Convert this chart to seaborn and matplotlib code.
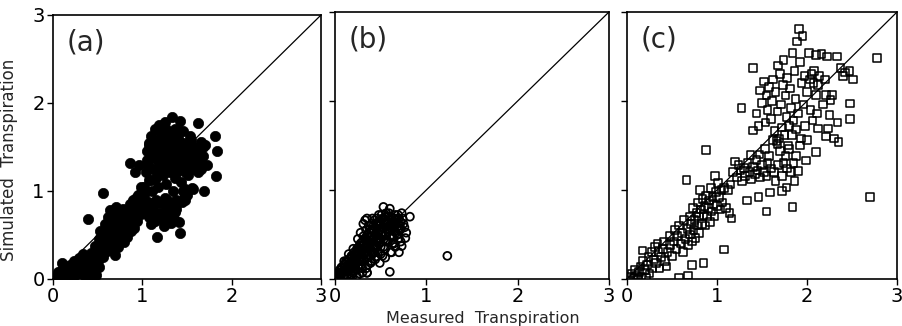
import numpy as np
import matplotlib
matplotlib.use("Agg")
import matplotlib.pyplot as plt
import seaborn as sns

# (a) filled circles
a_measured = [0.02, 0.05, 0.06, 0.08, 0.10, 0.10, 0.12, 0.14, 0.15, 0.17, 0.19, 0.20, 0.22, 0.24, 0.25,
              0.27, 0.29, 0.30, 0.32, 0.34, 0.36, 0.37, 0.40, 0.41, 0.42, 0.43, 0.45, 0.46, 0.47, 0.48, 0.39,
              0.50, 0.51, 0.52, 0.53, 0.55, 0.56, 0.56, 0.57, 0.58, 0.59, 0.60, 0.61, 0.62, 0.63, 0.64, 0.65,
              0.66, 0.67, 0.68, 0.69, 0.70, 0.71, 0.72, 0.73, 0.74, 0.75, 0.76, 0.78, 0.79, 0.80, 0.82, 0.83,
              0.85, 0.86, 0.87, 0.88, 0.90, 0.91, 0.92, 0.94,
              0.96, 0.98, 1.00, 1.02, 1.04, 1.06, 1.08, 1.10, 1.12, 1.14, 1.16, 1.18, 1.20, 1.22, 1.24, 1.26,
              1.28, 1.30, 1.32, 1.34, 1.36, 1.38, 1.41, 1.42, 1.44, 1.47, 1.48, 1.56,
              1.02, 1.04, 1.05, 1.06, 1.07, 1.08, 1.09, 1.10, 1.11, 1.12, 1.13, 1.14, 1.15, 1.16, 1.17, 1.18,
              1.19, 1.20, 1.21, 1.22, 1.23, 1.24, 1.25, 1.26, 1.27, 1.28, 1.29, 1.30, 1.31, 1.33, 1.33, 1.34,
              1.35, 1.36, 1.37, 1.38, 1.39, 1.40, 1.42, 1.42, 1.43, 1.44, 1.45, 1.46, 1.47, 1.48, 1.49, 1.50,
              1.51, 1.52, 1.53, 1.55, 1.56, 1.57, 1.58, 1.60, 1.62, 1.62, 1.63, 1.65, 1.66, 1.68, 1.69, 1.70,
              1.72, 1.81, 1.83, 1.84, 0.86, 0.92, 0.96, 0.98, 0.95,
              0.44, 0.48, 0.50, 0.53, 0.54, 0.57, 0.58, 0.60, 0.62, 0.63, 0.64, 0.66, 0.67, 0.68, 0.70,
              0.71, 0.73, 0.74, 0.76, 0.77, 0.79, 0.81, 0.84, 0.86, 0.89, 0.93, 0.97, 0.99, 0.32, 0.28,
              0.35, 0.38, 0.18, 0.12, 0.06,
              1.05, 1.08, 1.12, 1.14, 1.16, 1.18, 1.20, 1.22, 1.24, 1.26, 1.28, 1.30, 1.32, 1.34, 1.36,
              1.38, 1.40, 1.42, 1.44, 1.46, 1.48, 1.50, 1.52, 1.54, 1.56, 1.58, 1.60, 1.64, 1.66, 1.68,
              1.10, 1.15, 1.20, 1.25, 1.30, 1.35, 1.38, 1.45, 1.50]
a_simulated = [0.00, 0.03, 0.08, 0.02, 0.18, 0.10, 0.05, 0.00, 0.12, 0.06, 0.16, 0.02, 0.09, 0.20, 0.04,
               0.13, 0.24, 0.07, 0.18, 0.28, 0.12, 0.22, 0.05, 0.15, 0.01, 0.30, 0.10, 0.22, 0.38, 0.05, 0.68,
               0.30, 0.45, 0.14, 0.55, 0.38, 0.98, 0.25, 0.50, 0.62, 0.42, 0.32, 0.70, 0.55, 0.45, 0.78, 0.36,
               0.60, 0.50, 0.68, 0.27, 0.82, 0.44, 0.58, 0.36, 0.72, 0.50, 0.62, 0.80, 0.42, 0.55, 0.68, 0.48,
               0.62, 0.85, 0.54, 0.72, 0.90, 0.58, 0.78, 0.66,
               0.88, 0.74, 0.84, 0.95, 0.78, 0.88, 0.70, 0.62, 0.80, 0.66, 0.48, 0.74, 0.86, 0.68, 0.60, 0.78,
               0.90, 0.70, 0.64, 0.84, 0.76, 0.90, 0.65, 0.52, 0.88, 0.92, 0.90, 1.03,
               1.05, 1.22, 1.45, 1.30, 1.52, 1.12, 1.38, 1.62, 1.00, 1.25, 1.48, 1.70, 1.15, 1.35, 1.56, 1.05,
               1.75, 1.28, 1.45, 1.62, 1.18, 1.38, 1.78, 1.52, 1.08, 1.30, 1.66, 1.42, 1.22, 1.84, 1.55, 1.00,
               1.35, 1.70, 1.15, 1.48, 1.28, 1.60, 1.80, 1.38, 1.10, 1.52, 1.25, 1.68, 1.42, 1.02, 1.32, 1.55,
               1.18, 1.45, 1.62, 1.28, 1.40, 1.02, 1.50, 1.35, 1.77, 1.22, 1.45, 1.32, 1.56, 1.40, 1.00, 1.52,
               1.30, 1.63, 1.17, 1.46, 1.32, 1.22, 1.30, 1.05, 0.95,
               0.25, 0.30, 0.20, 0.35, 0.48, 0.30, 0.55, 0.45, 0.38, 0.62, 0.52, 0.44, 0.72, 0.58, 0.38,
               0.65, 0.52, 0.45, 0.70, 0.56, 0.64, 0.75, 0.78, 0.66, 0.80, 0.92, 0.80, 0.95, 0.10, 0.18,
               0.05, 0.16, 0.10, 0.14, 0.00,
               1.35, 1.55, 1.40, 1.58, 1.22, 1.45, 1.68, 1.50, 1.25, 1.70, 1.40, 1.58, 1.30, 1.48, 1.60,
               1.20, 1.42, 1.68, 1.35, 1.55, 1.22, 1.45, 1.30, 1.58, 1.50, 1.25, 1.48, 1.38, 1.25, 1.50,
               1.12, 0.90, 0.75, 0.92, 0.82, 0.68, 0.80, 1.00, 0.95]

# (b) open circles
b_measured = [0.01, 0.02, 0.03, 0.04, 0.05, 0.06, 0.07, 0.08, 0.09, 0.10, 0.10, 0.11, 0.12, 0.13, 0.14,
              0.15, 0.15, 0.16, 0.17, 0.18, 0.18, 0.19, 0.20, 0.21, 0.21, 0.22, 0.23, 0.24, 0.24, 0.25,
              0.26, 0.26, 0.27, 0.28, 0.28, 0.29, 0.30, 0.30, 0.31, 0.32, 0.32, 0.33, 0.34, 0.34, 0.35,
              0.35, 0.35, 0.36, 0.36, 0.37, 0.38, 0.38, 0.39, 0.40, 0.40, 0.41, 0.42, 0.42, 0.43, 0.44,
              0.44, 0.45, 0.46, 0.46, 0.47, 0.48, 0.48, 0.49, 0.50, 0.50, 0.51, 0.52, 0.53, 0.53, 0.54,
              0.55, 0.55, 0.56, 0.57, 0.58, 0.59, 0.60, 0.60, 0.60, 0.61, 0.62, 0.63, 0.64, 0.65, 0.66,
              0.67, 0.68, 0.70, 0.70, 0.72, 0.73, 0.75, 0.82, 1.23, 0.77, 0.73, 0.49, 0.20, 0.35,
              0.05, 0.08, 0.12, 0.14, 0.16, 0.18, 0.20, 0.22, 0.22, 0.24, 0.25, 0.26, 0.28, 0.29, 0.30,
              0.31, 0.32, 0.33, 0.34, 0.35, 0.36, 0.37, 0.38, 0.39, 0.40, 0.41, 0.42, 0.43, 0.44, 0.45,
              0.46, 0.47, 0.48, 0.49, 0.50, 0.51, 0.52, 0.53, 0.54, 0.55, 0.56, 0.57, 0.58, 0.59, 0.61,
              0.62, 0.63, 0.64, 0.65, 0.67, 0.68, 0.69, 0.71, 0.74, 0.45, 0.40, 0.36, 0.30, 0.27, 0.19,
              0.13, 0.07, 0.03, 0.10, 0.15, 0.20, 0.25, 0.28, 0.31, 0.33, 0.40, 0.50, 0.55, 0.62, 0.66,
              0.70, 0.72, 0.78, 0.76,
              0.06, 0.09, 0.11, 0.13, 0.15, 0.17, 0.19, 0.21, 0.23, 0.24, 0.26, 0.27, 0.29, 0.30, 0.31,
              0.33, 0.34, 0.35, 0.37, 0.38, 0.39, 0.41, 0.42, 0.43, 0.44, 0.45, 0.46, 0.47, 0.48, 0.50,
              0.51, 0.52, 0.53, 0.55, 0.56, 0.57, 0.58, 0.60, 0.61, 0.63, 0.64, 0.66, 0.68, 0.70, 0.72]
b_simulated = [0.00, 0.03, 0.06, 0.01, 0.10, 0.04, 0.13, 0.07, 0.02, 0.16, 0.10, 0.05, 0.20, 0.13, 0.08,
               0.22, 0.02, 0.16, 0.11, 0.26, 0.05, 0.19, 0.14, 0.30, 0.09, 0.23, 0.17, 0.34, 0.03, 0.27,
               0.20, 0.12, 0.38, 0.31, 0.24, 0.16, 0.42, 0.07, 0.35, 0.27, 0.20, 0.46, 0.38, 0.12, 0.68,
               0.07, 0.31, 0.50, 0.24, 0.42, 0.56, 0.34, 0.18, 0.47, 0.62, 0.28, 0.40, 0.55, 0.66, 0.35,
               0.22, 0.50, 0.60, 0.42, 0.30, 0.72, 0.55, 0.46, 0.36, 0.64, 0.52, 0.26, 0.81, 0.44, 0.60,
               0.70, 0.34, 0.50, 0.62, 0.42, 0.74, 0.79, 0.55, 0.08, 0.30, 0.66, 0.48, 0.58, 0.40, 0.72,
               0.52, 0.62, 0.46, 0.68, 0.56, 0.74, 0.62, 0.70, 0.26, 0.46, 0.37, 0.18, 0.07, 0.07,
               0.05, 0.12, 0.10, 0.16, 0.22, 0.14, 0.22, 0.28, 0.12, 0.20, 0.35, 0.28, 0.40, 0.22, 0.32,
               0.48, 0.40, 0.30, 0.55, 0.44, 0.36, 0.60, 0.48, 0.40, 0.55, 0.68, 0.46, 0.36, 0.58, 0.44,
               0.68, 0.52, 0.40, 0.62, 0.50, 0.72, 0.58, 0.36, 0.66, 0.52, 0.74, 0.44, 0.64, 0.56, 0.70,
               0.60, 0.40, 0.68, 0.54, 0.66, 0.50, 0.72, 0.60, 0.68, 0.25, 0.30, 0.16, 0.12, 0.06, 0.03,
               0.02, 0.08, 0.02, 0.20, 0.28, 0.34, 0.45, 0.52, 0.62, 0.66, 0.20, 0.28, 0.24, 0.30, 0.36,
               0.30, 0.42, 0.52, 0.58,
               0.07, 0.09, 0.13, 0.19, 0.09, 0.19, 0.25, 0.17, 0.25, 0.31, 0.16, 0.33, 0.28, 0.37, 0.22,
               0.35, 0.44, 0.27, 0.38, 0.52, 0.33, 0.44, 0.60, 0.30, 0.50, 0.63, 0.36, 0.46, 0.64, 0.42,
               0.58, 0.68, 0.48, 0.62, 0.42, 0.56, 0.70, 0.48, 0.62, 0.56, 0.46, 0.62, 0.68, 0.56, 0.64]

# (c) open squares
c_measured = [0.03, 0.05, 0.07, 0.09, 0.10, 0.12, 0.13, 0.15, 0.16, 0.17, 0.18, 0.20, 0.21, 0.22, 0.24,
              0.25, 0.27, 0.28, 0.30, 0.31, 0.32, 0.34, 0.35, 0.36, 0.38, 0.40, 0.41, 0.42, 0.44, 0.45,
              0.47, 0.48, 0.50, 0.52, 0.53, 0.55, 0.56, 0.58, 0.58, 0.60, 0.61, 0.62, 0.63, 0.65, 0.66,
              0.67, 0.68, 0.68, 0.70, 0.70, 0.71, 0.72, 0.72, 0.73, 0.74, 0.75, 0.76, 0.77, 0.78, 0.79,
              0.80, 0.80, 0.81, 0.82, 0.83, 0.84, 0.85, 0.85, 0.86, 0.87, 0.88, 0.88, 0.89, 0.90, 0.91,
              0.92, 0.93, 0.94, 0.95, 0.96, 0.97, 0.98, 0.99, 1.00, 1.01, 1.02, 1.04, 1.05, 1.06, 1.08,
              1.08, 1.10, 1.12, 1.14, 1.16,
              1.15, 1.18, 1.20, 1.22, 1.24, 1.26, 1.28, 1.30, 1.31, 1.33, 1.34, 1.36, 1.37, 1.38, 1.40,
              1.40, 1.42, 1.44, 1.45, 1.46, 1.47, 1.48, 1.50, 1.52, 1.53, 1.55, 1.55, 1.56, 1.58, 1.59,
              1.60, 1.62, 1.63, 1.65, 1.67, 1.68, 1.70, 1.72, 1.72, 1.74, 1.76, 1.77, 1.78, 1.80, 1.82,
              1.84, 1.85, 1.86, 1.88, 1.90, 1.92, 1.99, 2.00, 2.10, 2.70,
              1.27, 1.40, 1.44, 1.46, 1.48, 1.50, 1.52, 1.54, 1.55, 1.56, 1.58, 1.60, 1.61, 1.62, 1.64,
              1.65, 1.66, 1.67, 1.68, 1.69, 1.70, 1.71, 1.72, 1.73, 1.74, 1.75, 1.76, 1.77, 1.78, 1.79,
              1.80, 1.81, 1.82, 1.83, 1.84, 1.85, 1.86, 1.87, 1.88, 1.89, 1.90, 1.91, 1.92, 1.93, 1.94,
              1.95, 1.96, 1.97, 1.98, 2.00, 2.02, 2.03, 2.04, 2.05, 2.06, 2.07, 2.08, 2.10, 2.10, 2.11,
              2.12, 2.12, 2.14, 2.16, 2.18, 2.20, 2.21, 2.21, 2.22, 2.23, 2.25, 2.26, 2.28, 2.30, 2.33,
              2.34, 2.35, 2.37, 2.40, 2.42, 2.47, 2.48, 2.48, 2.51, 2.78]
c_simulated = [0.02, 0.06, 0.01, 0.10, 0.04, 0.00, 0.08, 0.14, 0.03, 0.32, 0.20, 0.10, 0.01, 0.16, 0.25,
               0.06, 0.30, 0.12, 0.22, 0.36, 0.18, 0.40, 0.30, 0.12, 0.25, 0.34, 0.42, 0.20, 0.14, 0.30,
               0.48, 0.38, 0.26, 0.42, 0.55, 0.34, 0.48, 0.01, 0.60, 0.40, 0.52, 0.30, 0.66, 0.45, 1.11,
               0.56, 0.04, 0.38, 0.70, 0.50, 0.62, 0.16, 0.42, 0.80, 0.55, 0.66, 0.46, 0.74, 0.60, 0.86,
               0.52, 0.70, 1.00, 0.78, 0.62, 0.90, 0.18, 0.72, 0.82, 0.60, 1.45, 0.94, 0.70, 0.80, 0.88,
               0.64, 1.02, 0.76, 0.92, 0.84, 0.70, 1.16, 0.98, 0.82, 1.08, 0.92, 0.78, 1.00, 0.86, 1.02,
               0.33, 0.80, 1.00, 0.74, 0.68,
               1.06, 1.20, 1.32, 1.14, 1.28, 1.22, 1.10, 1.25, 1.16, 0.88, 1.30, 1.20, 1.39, 1.12, 1.26,
               1.67, 1.18, 1.34, 1.22, 0.92, 1.40, 1.14, 1.28, 1.20, 1.46, 0.76, 1.16, 1.30, 1.38, 0.97,
               1.24, 1.56, 1.20, 1.10, 1.52, 1.28, 1.44, 0.99, 1.16, 1.30, 1.38, 1.03, 1.24, 1.46, 1.20,
               0.81, 1.30, 1.10, 1.38, 1.21, 1.50, 1.33, 1.56, 1.43, 0.92,
               1.92, 2.37, 1.86, 1.72, 2.12, 1.98, 2.22, 1.76, 2.06, 1.90, 2.16, 1.80, 2.00, 2.24, 1.66,
               2.10, 1.55, 1.88, 2.40, 1.58, 2.30, 1.96, 1.70, 2.18, 2.46, 1.62, 2.06, 1.82, 2.26, 1.50,
               1.72, 2.14, 1.92, 1.62, 2.54, 1.78, 2.34, 2.02, 1.68, 2.67, 1.86, 2.81, 2.44, 1.58, 2.20,
               2.73, 1.96, 2.28, 1.72, 2.10, 2.54, 2.24, 1.90, 2.30, 1.78, 2.20, 2.34, 2.07, 2.52, 1.86,
               2.18, 1.69, 2.28, 2.53, 1.96, 2.24, 1.60, 2.07, 2.50, 1.69, 1.84, 2.01, 2.07, 1.58, 2.50,
               1.76, 1.54, 2.37, 2.28, 2.32, 2.34, 1.80, 1.97, 2.24, 2.48]

panel_labels = ["(a)", "(b)", "(c)"]
ticks = [0, 1, 2, 3]

sns.set_style("ticks")
plt.rcParams['font.family'] = ['DejaVu Sans']

fig = plt.figure(figsize=(9.03, 3.26), dpi=100)
ax_a = fig.add_axes([0.0587, 0.1442, 0.2968, 0.8098])
ax_b = fig.add_axes([0.3710, 0.1442, 0.3034, 0.8190])
ax_c = fig.add_axes([0.6944, 0.1442, 0.2990, 0.8190])

sns.scatterplot(x=a_measured, y=a_simulated, ax=ax_a, marker="o", s=55,
                color="black", edgecolor="black", linewidth=0.5, zorder=3)
sns.scatterplot(x=b_measured, y=b_simulated, ax=ax_b, marker="o", s=32,
                facecolor="none", edgecolor="black", linewidth=1.3, zorder=3)
sns.scatterplot(x=c_measured, y=c_simulated, ax=ax_c, marker="s", s=30,
                facecolor="none", edgecolor="black", linewidth=1.1, zorder=3)

for ax, label in zip([ax_a, ax_b, ax_c], panel_labels):
    ax.plot([0, 3], [0, 3], color="black", linewidth=0.9, zorder=2)
    ax.set_xlim(0, 3)
    ax.set_ylim(0, 3)
    ax.set_xticks(ticks)
    ax.set_yticks(ticks)
    ax.tick_params(direction="out", length=4, width=1, labelsize=14, pad=2, colors="black")
    for sp in ax.spines.values():
        sp.set_visible(True)
        sp.set_linewidth(1.2)
        sp.set_color("black")
    ax.text(0.05, 0.95, label, transform=ax.transAxes, fontsize=20,
            ha="left", va="top")

ax_b.set_yticklabels([])
ax_c.set_yticklabels([])

ax_a.set_ylabel("Simulated  Transpiration", fontsize=12)
ax_a.yaxis.set_label_coords(-0.13, 0.45)
ax_b.set_xlabel("Measured  Transpiration", fontsize=11.5)
ax_b.xaxis.set_label_coords(0.54, -0.12)

fig.savefig("out.png", dpi=100)
